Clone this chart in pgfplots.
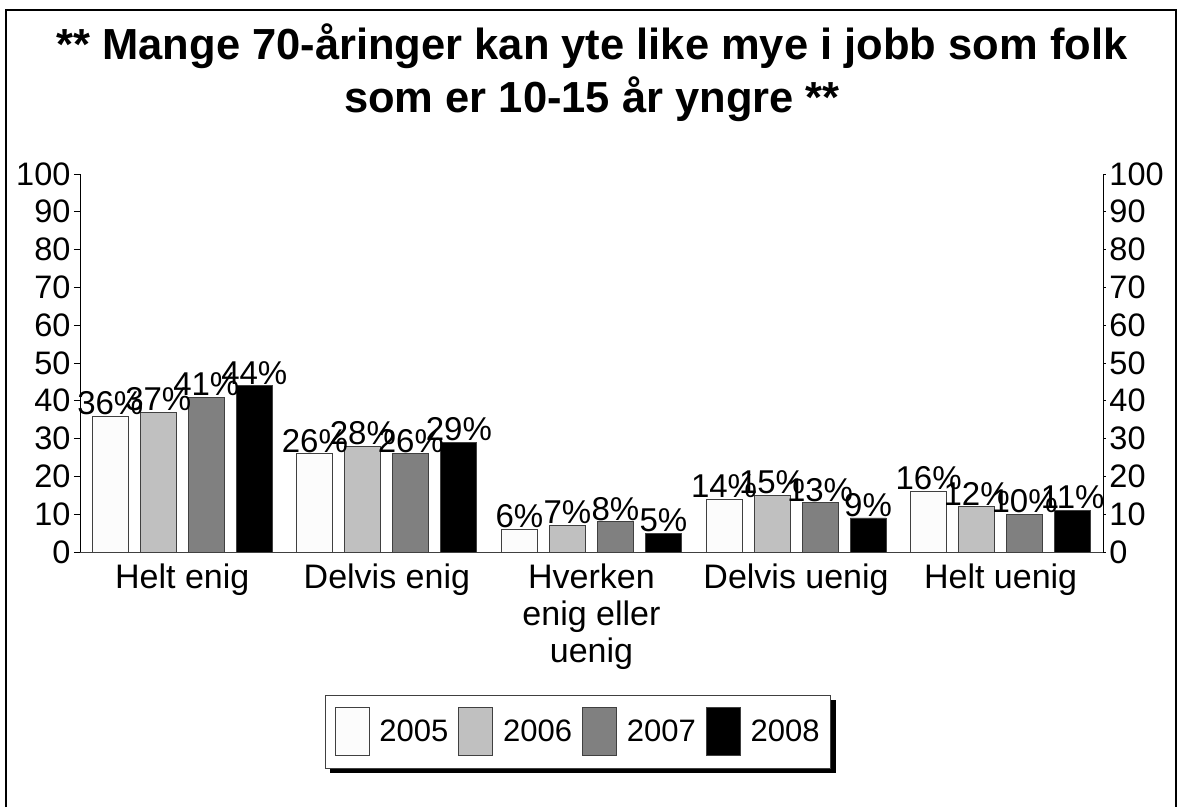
\documentclass[border=0pt]{standalone}
\usepackage{pgfplots}
\pgfplotsset{compat=1.18}
\usetikzlibrary{backgrounds}
\usepackage{fontspec}
\setmainfont{Liberation Sans}
\definecolor{c2005}{HTML}{FCFCFC}
\definecolor{c2006}{HTML}{C0C0C0}
\definecolor{c2007}{HTML}{808080}
\definecolor{c2008}{HTML}{000000}
\definecolor{edge}{HTML}{404040}
\begin{document}
\begin{tikzpicture}[x=1pt,y=1pt]
\useasboundingbox (0,0) rectangle (1177,807);
\draw[line width=1.5pt] (6,0) -- (6,797) -- (1176,797) -- (1176,0);
\node[font=\fontsize{43.5}{48}\selectfont\bfseries, anchor=base] at (592,747) {** Mange 70-åringer kan yte like mye i jobb som folk};
\node[font=\fontsize{43.5}{48}\selectfont\bfseries, anchor=base] at (592,694) {som er 10-15 år yngre **};
\begin{axis}[
  at={(80pt,255pt)}, anchor=south west,
  scale only axis, width=1023pt, height=378pt,
  xmin=-0.5, xmax=4.5, ymin=0, ymax=100,
  axis x line*=bottom, axis y line*=left,
  x axis line style={draw=edge, line width=1pt},
  y axis line style={black, line width=0.8pt},
  ytick={0,10,...,100},
  xtick={0,1,2,3,4},
  xticklabels={Helt enig, Delvis enig, {Hverken\\enig eller\\uenig}, Delvis uenig, Helt uenig},
  x tick label style={align=center, font=\fontsize{34}{37}\selectfont, yshift=-2pt},
  xtick style={draw=none},
  y tick label style={font=\fontsize{32.5}{36}\selectfont},
  ytick style={black, line width=0.8pt},
  tick align=outside, major tick length=6pt,
  /pgf/number format/assume math mode=true,
  ybar=12pt, bar width=36pt,
  every axis plot/.append style={draw=edge, line width=0.8pt},
  nodes near coords={\pgfmathprintnumber{\pgfplotspointmeta}\%},
  every node near coord/.append style={font=\fontsize{33}{36}\selectfont, inner sep=1pt, black},
  legend columns=4,
  legend style={name=leg, at={(0.487,-0.475)}, anchor=center, draw=edge, line width=0.8pt,
    fill=white,
    font=\fontsize{31}{34}\selectfont, inner xsep=9pt, inner ysep=12pt,
    /tikz/every odd column/.append style={column sep=8pt},
    /tikz/every even column/.append style={column sep=8pt}},
  legend image code/.code={\draw[#1] (0pt,-24pt) rectangle (34pt,24pt);},
]
\addplot[fill=c2005] coordinates {(0,36) (1,26) (2,6) (3,14) (4,16)};
\addplot[fill=c2006] coordinates {(0,37) (1,28) (2,7) (3,15) (4,12)};
\addplot[fill=c2007] coordinates {(0,41) (1,26) (2,8) (3,13) (4,10)};
\addplot[fill=c2008] coordinates {(0,44) (1,29) (2,5) (3,9) (4,11)};
\legend{2005,2006,2007,2008}
\end{axis}
\begin{pgfonlayer}{background}
\fill[black] ([xshift=5pt,yshift=-5pt]leg.south west) rectangle ([xshift=5pt,yshift=-5pt]leg.north east);
\end{pgfonlayer}
\begin{axis}[
  at={(80pt,255pt)}, anchor=south west,
  scale only axis, width=1023pt, height=378pt,
  xmin=-0.5, xmax=4.5, ymin=0, ymax=100,
  axis x line=none, axis y line*=right,
  y axis line style={black, line width=0.8pt},
  ytick={0,10,...,100},
  y tick label style={font=\fontsize{32.5}{36}\selectfont},
  ytick style={black, line width=0.8pt},
  tick align=outside, major tick length=3pt,
  /pgf/number format/assume math mode=true,
]
\addplot[draw=none] coordinates {(0,0)};
\end{axis}
\end{tikzpicture}
\end{document}
